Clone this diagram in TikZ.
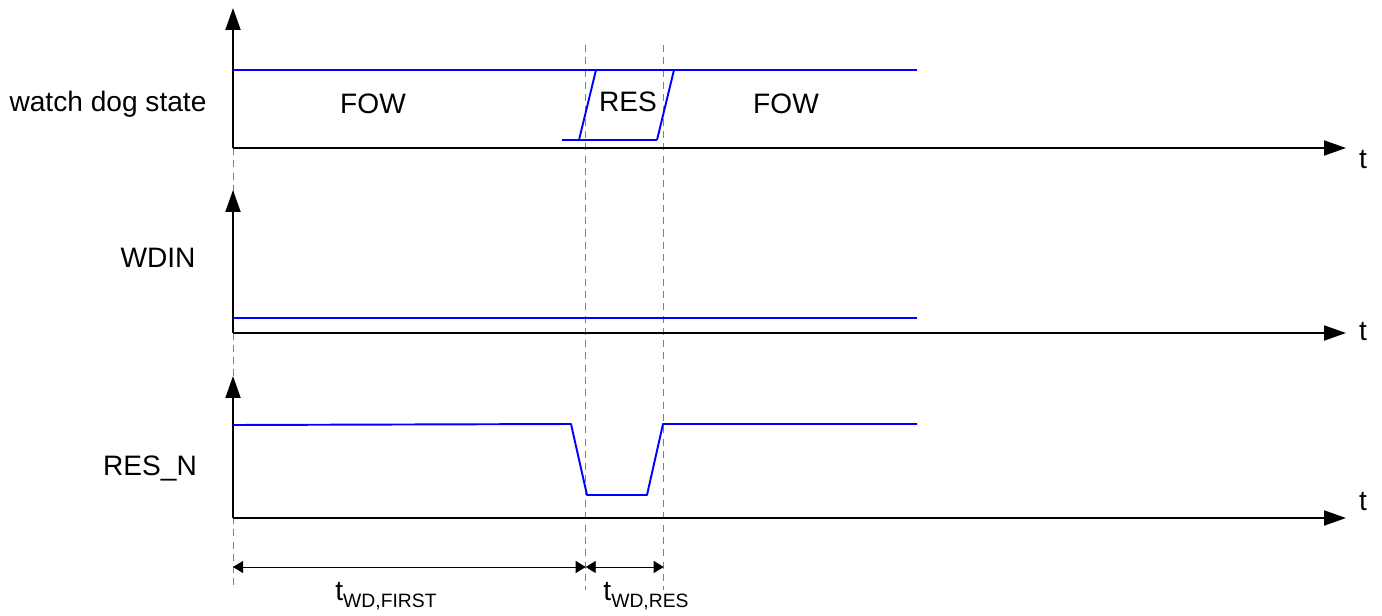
\documentclass[tikz,border=0pt]{standalone}
\usepackage{fontspec}
\setmainfont{Liberation Sans}
\usetikzlibrary{arrows.meta}

\newcommand{\sublbl}[1]{\raisebox{-0.45ex}{\fontsize{11}{12}\selectfont #1}}

\begin{document}
\begin{tikzpicture}[x=0.02cm, y=-0.02cm,
    axis/.style={line width=1.1pt, -{Triangle[length=0.44cm,width=0.3cm]}},
    sig/.style={blue, line width=1.1pt, line join=round},
    guide/.style={gray, dashed, line width=0.5pt, dash pattern=on 4pt off 3pt},
    span/.style={line width=0.5pt, {Triangle[length=0.2cm,width=0.24cm]}-{Triangle[length=0.2cm,width=0.24cm]}},
    lbl/.style={font=\fontsize{16}{19}\selectfont, inner sep=0pt}]

    \useasboundingbox (0,0) rectangle (1382,615);

    % time marks
    \coordinate (m0) at (233,148);
    \coordinate (m0b) at (233,590);
    \coordinate (m1) at (585.7,45);
    \coordinate (m1b) at (585.7,590);
    \coordinate (m2) at (663.7,45);
    \coordinate (m2b) at (663.7,590);

    \draw [guide] (m0) to (m0b);
    \draw [guide] (m1) to (m1b);
    \draw [guide] (m2) to (m2b);

    % axes
    \coordinate (o1) at (233,148);
    \coordinate (y1) at (233,8);
    \coordinate (x1) at (1346,148);
    \coordinate (o2) at (233,333);
    \coordinate (y2) at (233,190);
    \coordinate (x2) at (1346,333);
    \coordinate (o3) at (233,518);
    \coordinate (y3) at (233,376);
    \coordinate (x3) at (1346,518);

    \draw [axis] (o1) to (y1);
    \draw [axis] (o1) to (x1);
    \draw [axis] (o2) to (y2);
    \draw [axis] (o2) to (x2);
    \draw [axis] (o3) to (y3);
    \draw [axis] (o3) to (x3);

    \node [lbl] (t1) at (1363,160) {t};
    \node [lbl] (t2) at (1363,332) {t};
    \node [lbl] (t3) at (1363,502) {t};

    % signal names
    \node [lbl] (sa) at (108,104) {watch dog state};
    \node [lbl] (sb) at (158,258) {WDIN};
    \node [lbl] (sc) at (150,468) {RES\_N};

    % watch dog state
    \draw [sig] (233,70) to (917,70);
    \draw [sig] (562,140) to (657,140);
    \draw [sig] (579,140) to (596,70);
    \draw [sig] (657,140) to (674,70) to (690,70);
    \node [lbl] (fow1) at (373,104) {FOW};
    \node [lbl] (res) at (628,102) {RES};
    \node [lbl] (fow2) at (786,104) {FOW};

    % WDIN
    \draw [sig] (233,318) to (917,318);

    % RES_N
    \draw [sig] (233,425) -- (571,424) -- (587,495) -- (647,495) -- (663,424) -- (917,424);

    % durations
    \coordinate (d0) at (233,567);
    \coordinate (d1) at (585.7,567);
    \coordinate (d2) at (663.7,567);
    \draw [span] (d0) to (d1);
    \draw [span] (d1) to (d2);
    \node [lbl] (tf) at (386,596) {t\sublbl{WD,FIRST}};
    \node [lbl] (tr) at (646,596) {t\sublbl{WD,RES}};

\end{tikzpicture}
\end{document}
